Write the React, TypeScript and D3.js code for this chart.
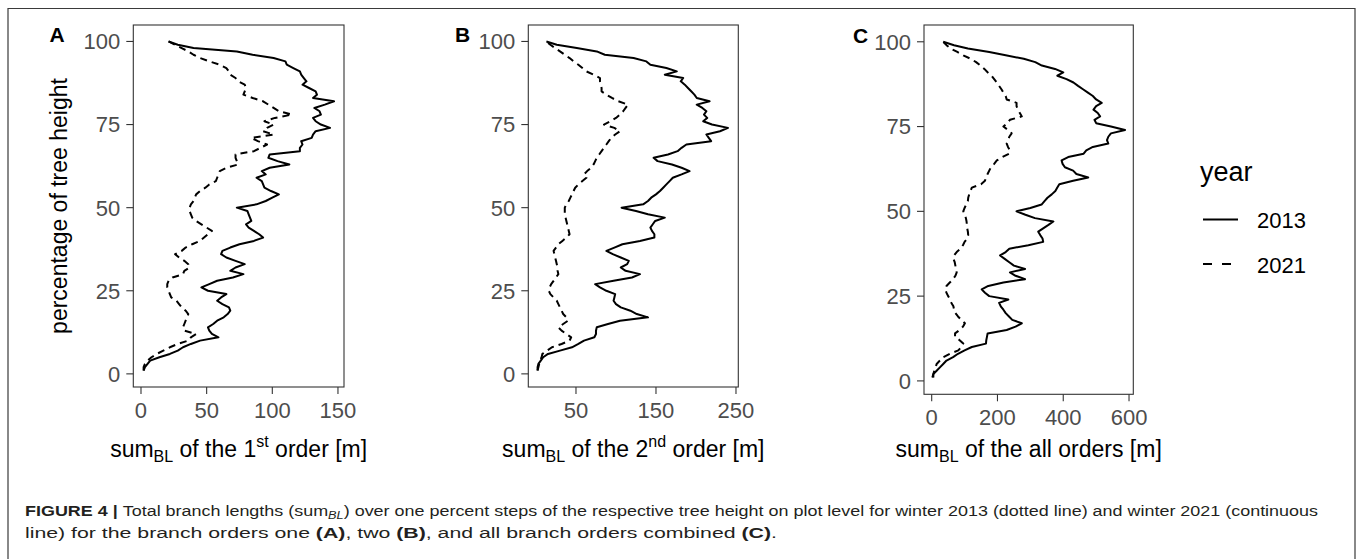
import React, { useEffect } from 'react';
import * as d3 from 'd3';

// percentage of tree height (1 % steps)
const levels = [1,2,3,4,5,6,7,8,9,10,11,12,13,14,15,16,17,18,19,20,21,22,23,24,25,26,27,28,29,30,31,32,33,34,35,36,37,38,39,40,41,42,43,44,45,46,47,48,49,50,51,52,53,54,55,56,57,58,59,60,61,62,63,64,65,66,67,68,69,70,71,72,73,74,75,76,77,78,79,80,81,82,83,84,85,86,87,88,89,90,91,92,93,94,95,96,97,98,99,100];

// Panel A: 1st order
const sumA2013 = [2,3,5,7,14,22,28,32,38,45,59,54,52,51,55,58,63,66,68,67,62,58,61,65,51,46,52,58,70,78,68,72,79,72,65,61,62,68,75,86,93,90,86,82,80,84,83,82,81,73,88,95,100,105,99,94,93,92,88,95,92,98,113,104,97,98,121,121,123,122,130,131,133,144,137,133,131,137,136,132,140,147,131,134,133,128,123,126,124,122,121,116,111,110,101,85,73,40,28,21];
const sumA2021 = [2,2,3,5,8,12,17,22,28,36,38,42,33,32,33,34,35,36,34,31,29,27,23,22,21,20,20,21,24,32,33,37,36,33,29,26,31,34,39,45,48,51,54,50,46,42,39,38,37,37,38,40,41,42,45,49,52,57,58,59,60,65,74,73,72,72,86,91,96,89,84,101,93,96,101,94,102,115,105,101,97,93,85,78,79,80,79,74,72,68,67,65,60,52,45,40,36,31,26,21];

// Panel B: 2nd order
const sumB2013 = [2,2,3,6,9,15,30,45,53,60,73,75,75,76,90,105,140,126,118,106,100,97,98,99,88,80,74,97,120,130,112,106,114,116,106,96,88,98,108,130,148,148,145,143,146,149,161,140,125,107,134,140,144,150,155,159,163,167,171,182,192,182,170,152,147,165,177,182,188,219,216,213,230,240,220,209,214,210,213,208,201,217,201,198,194,190,186,181,184,161,176,163,143,138,122,86,76,51,26,13];
const sumB2021 = [2,3,4,5,7,8,14,20,32,42,44,38,32,28,34,40,38,34,32,30,28,26,22,18,16,17,19,22,25,28,27,27,26,25,24,23,22,25,28,33,38,42,41,40,39,38,37,36,36,36,38,41,43,45,47,49,53,58,63,60,64,69,72,74,76,79,82,85,88,91,94,99,105,98,85,93,100,105,109,112,115,103,95,88,82,82,81,80,80,72,63,58,53,47,42,36,30,24,18,13];

// Panel C: all orders
const sumC2013 = [5,5,15,25,35,45,65,80,100,122,165,166,168,170,228,255,274,245,235,225,218,210,205,233,175,162,152,172,218,284,255,238,284,250,236,222,208,225,236,294,339,337,330,324,339,355,370,314,285,258,300,334,343,352,365,376,382,388,430,476,440,430,405,398,395,415,462,470,490,537,533,537,545,588,545,500,495,512,505,492,500,517,500,490,475,460,445,431,410,382,400,375,335,315,280,225,175,110,68,35];
const sumC2021 = [2,5,8,12,15,25,35,55,81,90,96,85,71,71,85,95,101,90,80,72,68,66,60,56,50,45,41,45,55,65,72,76,74,72,70,66,68,76,88,95,100,108,111,110,108,107,106,104,100,96,100,105,110,111,114,118,122,150,162,165,170,175,180,190,198,215,235,238,232,228,232,236,243,232,218,230,238,274,268,262,258,258,228,225,218,212,205,198,190,182,170,160,148,135,118,96,78,58,45,35];

const xTicksA = [0, 50, 100, 150];
const xTicksB = [50, 150, 250];
const xTicksC = [0, 200, 400, 600];
const yTicks = [0, 25, 50, 75, 100];
const years = ['2013', '2021'];
const panelTags = ['A', 'B', 'C'];
const orderWords = ['1', '2', 'all orders'];
const orderSups = ['st', 'nd', ''];

const FONT = "'Liberation Sans', Arial, Helvetica, sans-serif";
const INK = '#333333';
const TICKTXT = '#4d4d4d';

const yDomain: [number, number] = [-3.95, 104.95];

const layouts = [
  { x0: 133.3, x1: 344, y0: 25, y1: 387, xDom: [-5.86, 154.6], tagX: 49.5, tagY: 42, ticks: xTicksA, s13: sumA2013, s21: sumA2021 },
  { x0: 528.3, x1: 738.3, y0: 25, y1: 387, xDom: [-9.6, 252.9], tagX: 455, tagY: 42, ticks: xTicksB, s13: sumB2013, s21: sumB2021 },
  { x0: 924, x1: 1133.3, y0: 25, y1: 394.3, xDom: [-23.4, 613], tagX: 853, tagY: 43, ticks: xTicksC, s13: sumC2013, s21: sumC2021 },
];

const DASH = '7,5';

function Panel({ idx }: { idx: number }) {
  const L = layouts[idx];
  const x = d3.scaleLinear().domain(L.xDom).range([L.x0, L.x1]);
  const y = d3.scaleLinear().domain(yDomain).range([L.y1, L.y0]);
  const line = d3.line<number>().x((d) => x(d)).y((_, i) => y(levels[i]));
  const sup = orderSups[idx];
  const cx = (L.x0 + L.x1) / 2;
  return (
    <g>
      <rect x={L.x0} y={L.y0} width={L.x1 - L.x0} height={L.y1 - L.y0} fill="#fff" stroke={INK} strokeWidth={1.1} />
      <path d={line(L.s21) || ''} fill="none" stroke="#000" strokeWidth={2} strokeDasharray={DASH} strokeLinejoin="round" />
      <path d={line(L.s13) || ''} fill="none" stroke="#000" strokeWidth={2} strokeLinejoin="round" />
      {yTicks.map((t) => (
        <g key={'y' + t}>
          <line x1={L.x0 - 7} x2={L.x0} y1={y(t)} y2={y(t)} stroke={INK} strokeWidth={1.1} />
          <text x={L.x0 - 13} y={y(t)} dy="0.36em" textAnchor="end" fontSize={22} fill={TICKTXT} fontFamily={FONT}>{t}</text>
        </g>
      ))}
      {L.ticks.map((t) => (
        <g key={'x' + t}>
          <line x1={x(t)} x2={x(t)} y1={L.y1} y2={L.y1 + 7} stroke={INK} strokeWidth={1.1} />
          <text x={x(t)} y={L.y1 + 31} textAnchor="middle" fontSize={22} fill={TICKTXT} fontFamily={FONT}>{t}</text>
        </g>
      ))}
      <text x={L.tagX} y={L.tagY} fontSize={21} fontWeight="bold" fill="#000" fontFamily={FONT}>{panelTags[idx]}</text>
      <text x={cx} y={457} textAnchor="middle" fontSize={23} fill="#000" fontFamily={FONT}>
        <tspan>sum</tspan>
        <tspan dy={5} fontSize={16}>BL</tspan>
        <tspan dy={-5}>{' of the ' + orderWords[idx]}</tspan>
        {sup ? <tspan dy={-10} fontSize={16}>{sup}</tspan> : null}
        <tspan dy={sup ? 10 : 0}>{sup ? ' order [m]' : ' [m]'}</tspan>
      </text>
    </g>
  );
}

export default function App() {
  useEffect(() => {
    document.body.style.margin = '0';
  }, []);
  return (
    <svg width={1358} height={559} viewBox="0 0 1358 559" style={{ position: 'absolute', left: 0, top: 0, background: '#fff' }}>
      <rect x={0} y={0} width={1358} height={559} fill="#fff" />
      <path d="M8,570 L8,8.5 L1355,8.5 L1355,570" fill="none" stroke="#3a3a3a" strokeWidth={1.2} />
      <text transform="translate(67,206) rotate(-90)" textAnchor="middle" fontSize={23} fill="#000" fontFamily={FONT}>percentage of tree height</text>
      {layouts.map((_, i) => <Panel key={i} idx={i} />)}
      <text x={1200} y={181} fontSize={27} fill="#000" fontFamily={FONT}>year</text>
      {years.map((yr, i) => (
        <g key={yr}>
          <line x1={1203} x2={1238} y1={219.5 + i * 44.5} y2={219.5 + i * 44.5} stroke="#000" strokeWidth={2} strokeDasharray={i === 1 ? '9,10' : undefined} />
          <text x={1257} y={228 + i * 44.5} fontSize={22} fill="#000" fontFamily={FONT}>{yr}</text>
        </g>
      ))}
      <text x={25} y={516} fontSize={15.5} fill="#231f20" fontFamily={FONT} textLength={1293} lengthAdjust="spacingAndGlyphs">
        <tspan fontWeight="bold">FIGURE 4 | </tspan>
        <tspan>Total branch lengths (sum</tspan>
        <tspan fontStyle="italic" fontSize={11} dy={3}>BL</tspan>
        <tspan dy={-3}>) over one percent steps of the respective tree height on plot level for winter 2013 (dotted line) and winter 2021 (continuous</tspan>
      </text>
      <text x={25} y={538} fontSize={15.5} fill="#231f20" fontFamily={FONT} textLength={752} lengthAdjust="spacingAndGlyphs">
        <tspan>line) for the branch orders one </tspan>
        <tspan fontWeight="bold">(A)</tspan>
        <tspan>, two </tspan>
        <tspan fontWeight="bold">(B)</tspan>
        <tspan>, and all branch orders combined </tspan>
        <tspan fontWeight="bold">(C)</tspan>
        <tspan>.</tspan>
      </text>
    </svg>
  );
}
